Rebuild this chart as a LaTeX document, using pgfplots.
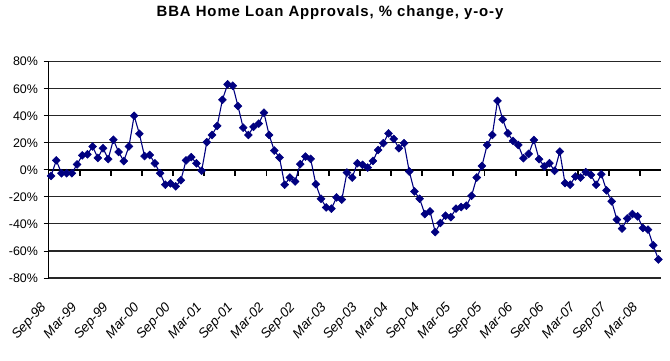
\documentclass[border=0pt]{standalone}
\usepackage{fontspec}
\setmainfont{Liberation Sans}
\newfontfamily\titlefont[LetterSpace=6]{Liberation Sans}
\usepackage{pgfplots}
\pgfplotsset{compat=1.18}
\usepackage{pgfplotstable}
\definecolor{navyblue}{RGB}{0,0,128}
\pgfplotstableread{
i v
0 -4.5
1 7
2 -2.5
3 -2.5
4 -2.5
5 4
6 10.7
7 11.5
8 17.3
9 8.8
10 16
11 8
12 22.3
13 13.2
14 6.5
15 17.3
16 40
17 26.7
18 10.2
19 11
20 4.8
21 -2.5
22 -11
23 -10
24 -12.2
25 -7.7
26 7
27 9.4
28 4.8
29 -0.7
30 20.5
31 25.8
32 32.5
33 51.8
34 63.3
35 62.2
36 47.2
37 31.2
38 25.8
39 31.8
40 34.2
41 42.3
42 25.8
43 14.3
44 9.1
45 -11
46 -5.7
47 -8.6
48 4.2
49 9.8
50 8.1
51 -10.6
52 -21.4
53 -27.8
54 -28.7
55 -20.4
56 -22
57 -2
58 -5.7
59 4.9
60 3.7
61 1.7
62 6.6
63 14.7
64 19.7
65 27
66 22.9
67 16
68 19.7
69 -1.2
70 -16
71 -21.4
72 -32.7
73 -30.7
74 -46
75 -39.3
76 -33.9
77 -35
78 -28.7
79 -27.5
80 -26.5
81 -19.2
82 -5.7
83 2.9
84 18.4
85 25.8
86 51
87 37.3
88 27
89 21.4
90 18.4
91 8.6
92 11.8
93 22.1
94 7.9
95 2.5
96 4.9
97 -0.7
98 13.5
99 -9.8
100 -11
101 -4.9
102 -5.7
103 -1.7
104 -3.7
105 -11
106 -3.2
107 -15.2
108 -23.3
109 -36.8
110 -43.4
111 -36
112 -32.7
113 -34.4
114 -43
115 -44.2
116 -55.8
117 -66.3
}\datatable
\pgfplotstableread{
x y
5.5 -4.2
11.5 -4.2
17.5 -4.2
23.5 -4.2
29.5 -4.2
35.5 -4.2
41.5 -4.2
47.5 -4.2
53.5 -4.2
59.5 -4.2
65.5 -4.2
71.5 -4.2
77.5 -4.2
83.5 -4.2
89.5 -4.2
95.5 -4.2
101.5 -4.2
107.5 -4.2
113.5 -4.2
}\zeroticks
\begin{document}
\begin{tikzpicture}[x=1bp,y=1bp]
\useasboundingbox (0,0) rectangle (670,360);
\node[font=\titlefont\bfseries\fontsize{15}{17}\selectfont] at (330,347) {BBA Home Loan Approvals, \% change, y-o-y};
\begin{axis}[
  at={(48.5bp,82bp)}, anchor=south west, scale only axis,
  width=612.5bp, height=216.3bp,
  xmin=-0.5, xmax=117.5, ymin=-80, ymax=80,
  axis x line*=bottom, axis y line*=left,
  x axis line style={draw=none},
  y axis line style={black, line width=0.9bp, -},
  ytick={-80,-60,...,80},
  yticklabels={-80\%,-60\%,-40\%,-20\%,0\%,20\%,40\%,60\%,80\%},
  ymajorgrids, grid style={black!85, line width=1.1bp},
  extra y ticks={0}, extra y tick labels={},
  extra y tick style={grid style={black, line width=2.6bp}},
  xtick={0,6,...,114},
  xticklabels={Sep-98,Mar-99,Sep-99,Mar-00,Sep-00,Mar-01,Sep-01,Mar-02,Sep-02,Mar-03,Sep-03,Mar-04,Sep-04,Mar-05,Sep-05,Mar-06,Sep-06,Mar-07,Sep-07,Mar-08},
  x tick label style={rotate=48, anchor=north east, xshift=-18bp, yshift=0bp, font=\itshape\fontsize{13.5}{15}\selectfont},
  y tick label style={font=\fontsize{12.5}{14}\selectfont, xshift=-2bp},
  xtick style={draw=none}, ytick style={black, line width=0.9bp},
  tick align=outside, major tick length=5bp,
  clip=false,
]
\addplot[ycomb, black, line width=1.8bp, mark=none] table[x=x,y=y] {\zeroticks};
\addplot[color=navyblue, line width=1.1bp, mark=square*, mark size=2.8bp,
  mark options={rotate=45, fill=navyblue, line width=0.5bp}] table[x=i,y=v] {\datatable};
\end{axis}
\end{tikzpicture}
\end{document}
